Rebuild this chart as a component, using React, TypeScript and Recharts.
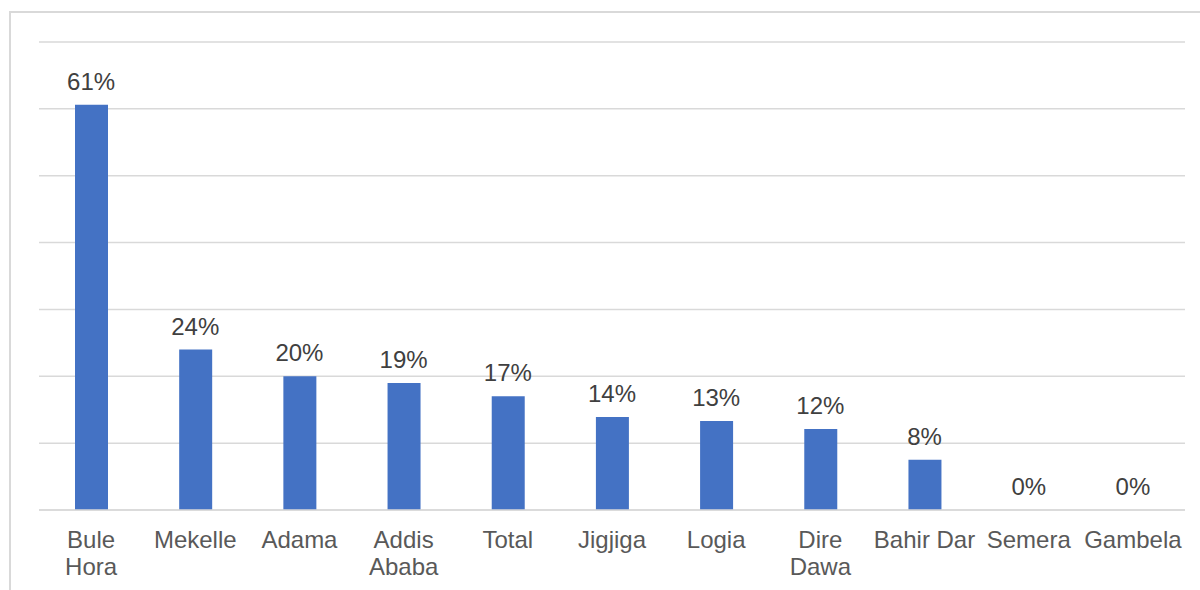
import React from "react";
import { ComposedChart, Bar, Line, XAxis, YAxis, CartesianGrid, LabelList } from "recharts";

const categories = [
  "Bule\nHora",
  "Mekelle",
  "Adama",
  "Addis\nAbaba",
  "Total",
  "Jigjiga",
  "Logia",
  "Dire\nDawa",
  "Bahir Dar",
  "Semera",
  "Gambela",
];
const values = [0.606, 0.24, 0.2, 0.19, 0.17, 0.139, 0.133, 0.121, 0.075, 0, 0];
const valueLabels = ["61%", "24%", "20%", "19%", "17%", "14%", "13%", "12%", "8%", "0%", "0%"];
const yTicks = [0, 0.1, 0.2, 0.3, 0.4, 0.5, 0.6, 0.7];

const data = categories.map((c, i) => ({ name: c, value: values[i], label: valueLabels[i] }));

const FONT = "'Liberation Sans', Arial, sans-serif";

const Tick = (props: any) => {
  const { x, y, payload } = props;
  const lines = String(payload.value).split("\n");
  return (
    <text x={x} y={y} textAnchor="middle" fill="#595959" fontSize={24} fontFamily={FONT}>
      {lines.map((l, i) => (
        <tspan key={i} x={x} y={y + 38 + i * 27}>
          {l}
        </tspan>
      ))}
    </text>
  );
};

export default function App() {
  return (
    <div style={{ position: "absolute", left: 0, top: 0, width: 1200, height: 590, overflow: "hidden", background: "#fff" }}>
      <div
        style={{
          position: "absolute",
          left: 9,
          top: 11,
          width: 1300,
          height: 700,
          borderLeft: "2px solid #d9d9d9",
          borderTop: "2px solid #d9d9d9",
        }}
      />
      <div style={{ position: "absolute", left: 0, top: 0 }}>
        <ComposedChart
          width={1200}
          height={590}
          data={data}
          margin={{ top: 42, right: 15, bottom: 0, left: 39 }}
          barSize={33}
        >
          <CartesianGrid horizontal vertical={false} stroke="#d9d9d9" strokeWidth={1.5} />
          <YAxis hide domain={[0, 0.7]} ticks={yTicks} type="number" />
          <XAxis
            dataKey="name"
            interval={0}
            tickLine={false}
            tickSize={0}
            tickMargin={0}
            axisLine={{ stroke: "#d9d9d9", strokeWidth: 1.5 }}
            tick={<Tick />}
            height={80}
          />
          <Bar dataKey="value" fill="#4472C4" isAnimationActive={false} />
          <Line
            dataKey="value"
            stroke="none"
            dot={false}
            activeDot={false}
            isAnimationActive={false}
            legendType="none"
          >
            <LabelList
              dataKey="label"
              position="top"
              offset={15}
              fill="#404040"
              fontSize={24}
              fontFamily={FONT}
            />
          </Line>
        </ComposedChart>
      </div>
    </div>
  );
}
